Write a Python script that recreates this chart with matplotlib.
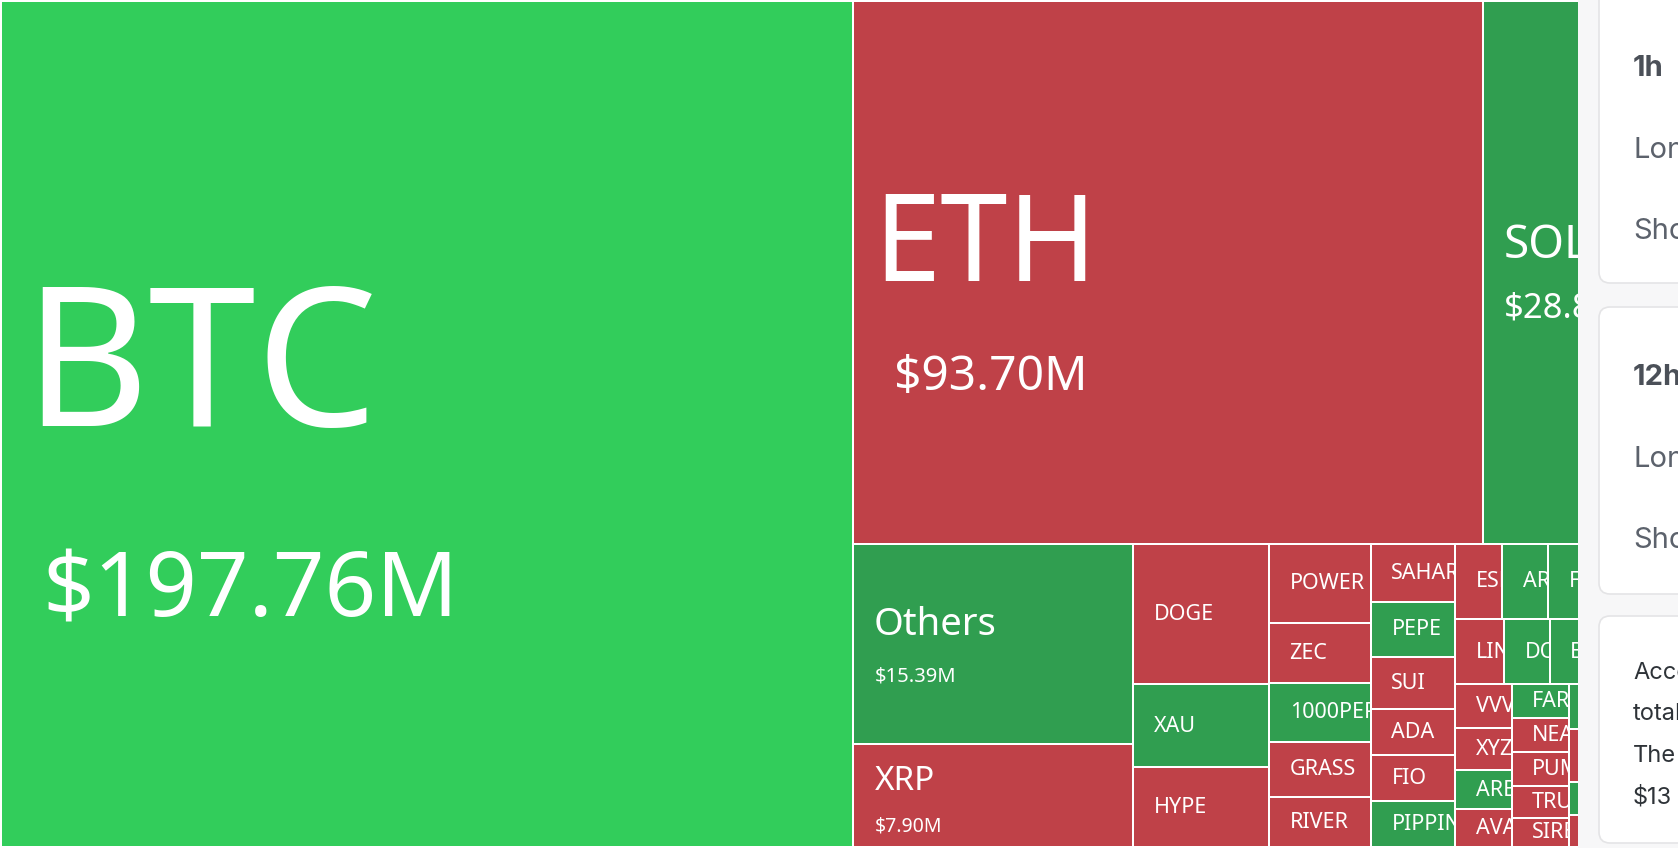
import matplotlib
matplotlib.use('Agg')
import matplotlib.pyplot as plt
from matplotlib.patches import Rectangle, FancyBboxPatch
from matplotlib.transforms import Bbox

# --- data: liquidation totals ($M) per coin, sorted descending ---
TICKERS = ['BTC', 'ETH', 'SOL', 'Others', 'XRP',
           'DOGE', 'XAU', 'HYPE',
           'POWER', 'ZEC', '1000PEPE', 'GRASS', 'RIVER',
           'SAHARA', 'PEPE', 'SUI', 'ADA', 'FIO', 'PIPPIN',
           'ESPORTS', 'ARC', 'FET', 'WLD', 'LTC',
           'LINK', 'DOT', 'BNB', 'ENA', 'TAO',
           'VVV', 'XYZ', 'ARB', 'AVAX',
           'FARTCOIN', 'NEAR', 'PUMP', 'TRUMP', 'SIREN',
           'WIF', 'TON', 'AAVE',
           'UNI', 'ONDO', 'BCH', 'TIA',
           'OP', 'APT',
           'INJ', 'SEI', 'JUP', 'CRV', 'LDO', 'ETC', 'FIL', 'ATOM', 'HBAR', 'ALGO']
VALUES = [197.76, 93.70, 28.86, 15.39, 7.90,
          5.24, 3.07, 2.99,
          2.22, 1.68, 1.63, 1.54, 1.40,
          1.35, 1.27, 1.21, 1.08, 1.07, 1.06,
          0.97, 0.95, 0.92, 0.89, 0.87,
          0.86, 0.81, 0.78, 0.75, 0.725,
          0.68, 0.65, 0.60, 0.585,
          0.54, 0.54, 0.53, 0.51, 0.46,
          0.45, 0.44, 0.43,
          0.40, 0.39, 0.39, 0.38,
          0.30, 0.29,
          0.15, 0.15, 0.14, 0.14, 0.14, 0.13, 0.13, 0.12, 0.12, 0.12]
# s = strongly up, u = up, d = down
TREND = ['s', 'd', 'u', 'u', 'd',
         'd', 'u', 'd',
         'd', 'd', 'u', 'd', 'd',
         'd', 'u', 'd', 'd', 'd', 'u',
         'd', 'u', 'u', 'd', 'u',
         'd', 'u', 'u', 'd', 'u',
         'd', 'd', 'u', 'd',
         'u', 'd', 'd', 'd', 'd',
         'u', 'd', 'u',
         'd', 'u', 'd', 'u',
         'u', 'd',
         'd', 'u', 'd', 'u', 'd', 'u', 'd', 'u', 'd', 'u']

# cells that also show the amount: name pt, value pt, offsets from cell (left, centre)
BIG_LABELS = {
    'BTC':    (139, 65, 21, 2.5, 40, 192.5),
    'ETH':    (87, 34.5, 19, 9, 40, 118),
    'SOL':    (33, 25, 19.5, -14, 20, 45),
    'Others': (27.5, 14.5, 19, -9, 20, 38),
    'XRP':    (24, 14, 20.5, -6, 20, 36),
}

PANEL_CARDS = [(-40, 283), (307, 594), (616, 843)]
PANEL_TEXT = [('1h', 76, 'bold'), ('Long', 158, 'normal'), ('Short', 239, 'normal'),
              ('12h', 385, 'bold'), ('Long', 467, 'normal'), ('Short', 548, 'normal')]
NOTE_LINES = ['According', 'total', 'The', '$13']

COLORS = {'s': '#32cd5b', 'u': '#309e50', 'd': '#bf4148'}


def squarify(values, x0, y0, x1, y1, ratio=(1 + 5 ** 0.5) / 2):
    # same row-building rule as d3.treemapSquarify
    rects = []
    total = float(sum(values))
    i0, n = 0, len(values)
    while i0 < n:
        dx, dy = x1 - x0, y1 - y0
        s = values[i0]
        i1 = i0 + 1
        vmin = vmax = s
        alpha = max(dy / dx, dx / dy) / (total * ratio)
        beta = s * s * alpha
        best = max(vmax / beta, beta / vmin)
        while i1 < n:
            v = values[i1]
            s2 = s + v
            lo, hi = min(vmin, v), max(vmax, v)
            beta = s2 * s2 * alpha
            r = max(hi / beta, beta / lo)
            if r > best:
                break
            s, vmin, vmax, best = s2, lo, hi, r
            i1 += 1
        row = values[i0:i1]
        if dx < dy:
            h = dy * s / total
            cx = x0
            for v in row:
                w = dx * v / s
                rects.append((cx, y0, w, h))
                cx += w
            y0 += h
        else:
            w = dx * s / total
            cy = y0
            for v in row:
                h = dy * v / s
                rects.append((x0, cy, w, h))
                cy += h
            x0 += w
        total -= s
        i0 = i1
    return rects


FIG_W, FIG_H = 1678, 848
fig = plt.figure(figsize=(FIG_W / 100, FIG_H / 100), dpi=100)
ax = fig.add_axes([0, 0, 1, 1])
ax.set_xlim(0, FIG_W)
ax.set_ylim(FIG_H, 0)
ax.axis('off')
fig.patch.set_facecolor('white')


def clip_box(x0, y0, x1, y1):
    # text clipping in Agg only honours rectangles, in display units
    (ax0, ay0), (ax1, ay1) = ax.transData.transform([(x0, y0), (x1, y1)])
    return Bbox([[min(ax0, ax1), min(ay0, ay1)], [max(ax0, ax1), max(ay0, ay1)]])


TREE_FONT = 'Noto Sans'
rects = squarify(VALUES, 1, 1, 1677, 847)

for name, val, trend, (x, y, w, h) in zip(TICKERS, VALUES, TREND, rects):
    ax.add_patch(Rectangle((x + 1, y + 1), w - 2, h - 2, facecolor=COLORS[trend],
                           edgecolor='none', zorder=1))
    box = clip_box(x + 1, y + 1, x + w - 1, y + h - 1)
    left, cy = x + 1, y + h / 2
    if name in BIG_LABELS:
        npt, vpt, ndx, ndy, vdx, vdy = BIG_LABELS[name]
        labels = [(left + ndx, cy + ndy, name, npt),
                  (left + vdx, cy + vdy, f'${val:.2f}M', vpt)]
    else:
        labels = [(left + 19.5, cy + 6, name, 15.5)]
    for tx, ty, s, pt in labels:
        t = ax.text(tx, ty, s, color='white', fontsize=pt, family=TREE_FONT,
                    ha='left', va='baseline', zorder=2, clip_on=True)
        t.set_clip_box(box)

# --- side panel that covers the right of the treemap ---
ax.add_patch(Rectangle((1578, 0), 200, FIG_H, facecolor='#f7f7f8', edgecolor='none', zorder=5))
for top, bottom in PANEL_CARDS:
    ax.add_patch(FancyBboxPatch((1599, top), 300, bottom - top,
                                boxstyle='round,pad=0,rounding_size=11',
                                facecolor='white', edgecolor='#e4e4e6', linewidth=1.2,
                                zorder=6))

for txt, base, weight in PANEL_TEXT:
    ax.text(1633, base, txt, fontsize=21, family='Inter', fontweight=weight,
            color='#4b5058' if weight == 'bold' else '#5c626c',
            ha='left', va='baseline', zorder=7)
for i, line in enumerate(NOTE_LINES):
    ax.text(1633, 679 + i * 41.5, line, fontsize=17, family='Inter', color='#2e3338',
            ha='left', va='baseline', zorder=7)

fig.savefig('out.png', dpi=100, facecolor='white')
